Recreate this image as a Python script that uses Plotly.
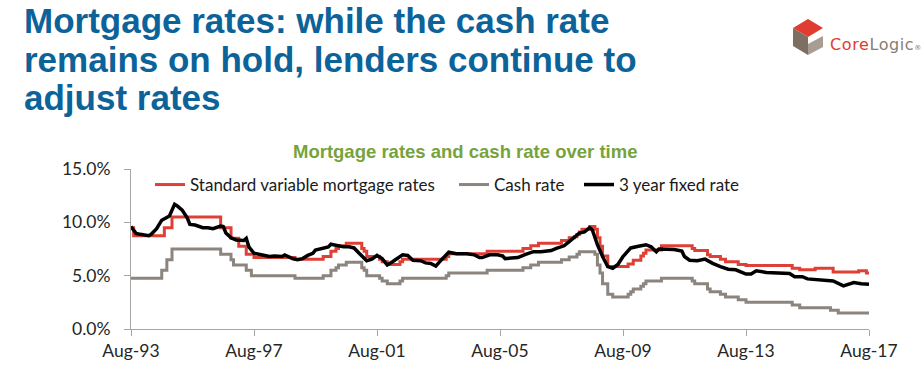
import plotly.graph_objects as go

# ---------------- data ----------------
svr_dates = ["1993-08", "1993-09", "1994-09", "1994-12", "1996-07", "1996-11", "1997-02",
             "1997-05", "1997-08", "1998-12", "1999-11", "2000-02", "2000-04", "2000-05",
             "2000-08", "2001-02", "2001-03", "2001-04", "2001-09", "2001-10", "2001-12",
             "2002-05", "2002-06", "2003-11", "2003-12", "2005-03", "2006-05", "2006-08",
             "2006-11", "2007-08", "2007-11", "2008-01", "2008-02", "2008-03", "2008-04",
             "2008-07", "2008-09", "2008-10", "2008-11", "2008-12", "2009-02", "2009-10",
             "2009-12", "2010-03", "2010-04", "2010-05", "2010-11", "2011-11", "2011-12",
             "2012-05", "2012-06", "2012-10", "2012-12", "2013-05", "2013-08", "2015-02",
             "2015-05", "2015-11", "2016-06", "2017-04", "2017-07", "2017-08"]
svr_values = [9.5, 8.75, 9.5, 10.5, 9.5, 8.5, 7.75,
              7.0, 6.7, 6.55, 6.8, 7.3, 7.55, 7.8,
              8.05, 7.55, 7.3, 6.8, 6.55, 6.3, 6.05,
              6.3, 6.55, 6.8, 7.05, 7.3, 7.55, 7.8,
              8.05, 8.3, 8.55, 8.65, 8.85, 9.1, 9.35,
              9.6, 9.35, 8.55, 7.75, 6.85, 5.85, 6.1,
              6.45, 6.85, 7.1, 7.4, 7.8, 7.55, 7.35,
              6.95, 6.8, 6.55, 6.3, 6.05, 5.95, 5.7,
              5.55, 5.7, 5.35, 5.45, 5.25, 5.25]

cash_dates = ["1993-08", "1994-08", "1994-10", "1994-12", "1996-07", "1996-11", "1996-12",
              "1997-05", "1997-07", "1998-12", "1999-11", "2000-02", "2000-04", "2000-05",
              "2000-08", "2001-02", "2001-03", "2001-04", "2001-09", "2001-10", "2001-12",
              "2002-05", "2002-06", "2003-11", "2003-12", "2005-03", "2006-05", "2006-08",
              "2006-11", "2007-08", "2007-11", "2008-02", "2008-03", "2008-09", "2008-10",
              "2008-11", "2008-12", "2009-02", "2009-04", "2009-10", "2009-11", "2009-12",
              "2010-03", "2010-04", "2010-05", "2010-11", "2011-11", "2011-12", "2012-05",
              "2012-06", "2012-10", "2012-12", "2013-05", "2013-08", "2015-02", "2015-05",
              "2016-05", "2016-08", "2017-08"]
cash_values = [4.75, 5.5, 6.5, 7.5, 7.0, 6.5, 6.0,
               5.5, 5.0, 4.75, 5.0, 5.5, 5.75, 6.0,
               6.25, 5.75, 5.5, 5.0, 4.75, 4.5, 4.25,
               4.5, 4.75, 5.0, 5.25, 5.5, 5.75, 6.0,
               6.25, 6.5, 6.75, 7.0, 7.25, 7.0, 6.0,
               5.25, 4.25, 3.25, 3.0, 3.25, 3.5, 3.75,
               4.0, 4.25, 4.5, 4.75, 4.5, 4.25, 3.75,
               3.5, 3.25, 3.0, 2.75, 2.5, 2.25, 2.0,
               1.75, 1.5, 1.5]

fixed_dates = ["1993-08", "1993-10", "1993-11", "1994-03", "1994-04", "1994-06", "1994-08",
               "1994-11", "1994-12", "1995-01", "1995-02", "1995-04", "1995-06", "1995-07",
               "1995-09", "1995-12", "1996-02", "1996-04", "1996-07", "1996-08", "1996-09",
               "1996-11", "1997-01", "1997-04", "1997-05", "1997-06", "1997-08", "1997-11",
               "1998-02", "1998-04", "1998-07", "1998-08", "1998-11", "1999-01", "1999-03",
               "1999-05", "1999-07", "1999-08", "1999-11", "2000-01", "2000-02", "2000-04",
               "2000-07", "2000-09", "2000-11", "2001-01", "2001-04", "2001-06", "2001-08",
               "2001-10", "2001-12", "2002-02", "2002-04", "2002-06", "2002-08", "2002-10",
               "2003-01", "2003-03", "2003-05", "2003-07", "2003-09", "2003-12", "2004-03",
               "2004-07", "2004-10", "2004-12", "2005-01", "2005-04", "2005-07", "2005-09",
               "2005-10", "2006-01", "2006-03", "2006-06", "2006-09", "2006-12", "2007-04",
               "2007-06", "2007-09", "2007-11", "2008-01", "2008-03", "2008-05", "2008-07",
               "2008-08", "2008-10", "2008-12", "2009-02", "2009-04", "2009-06", "2009-08",
               "2009-11", "2010-02", "2010-05", "2010-07", "2010-09", "2010-10", "2010-12",
               "2011-04", "2011-07", "2011-08", "2011-10", "2012-01", "2012-04", "2012-07",
               "2012-10", "2013-01", "2013-04", "2013-08", "2013-10", "2013-12", "2014-04",
               "2014-09", "2015-01", "2015-03", "2015-06", "2015-08", "2016-01", "2016-06",
               "2016-10", "2017-02", "2017-05", "2017-08"]
fixed_values = [9.6, 8.95, 8.9, 8.75, 8.9, 9.4, 10.2,
                10.6, 11.15, 11.7, 11.55, 11.15, 10.4, 9.8,
                9.75, 9.5, 9.5, 9.4, 9.65, 9.6, 9.0,
                8.55, 8.35, 8.3, 8.5, 7.7, 7.1, 6.95,
                6.8, 6.85, 6.8, 6.95, 6.6, 6.5, 6.6,
                6.9, 7.1, 7.4, 7.55, 7.7, 7.95, 7.85,
                7.7, 7.7, 7.6, 7.1, 6.4, 6.55, 6.9,
                6.6, 6.0, 6.3, 6.6, 6.95, 6.9, 6.45,
                6.4, 6.2, 6.15, 5.9, 6.45, 7.2, 7.05,
                7.05, 6.95, 6.7, 6.7, 6.95, 6.95, 6.85,
                6.6, 6.7, 6.7, 7.0, 7.25, 7.25, 7.35,
                7.55, 7.8, 8.2, 8.65, 9.0, 9.1, 9.5,
                9.3, 7.9, 6.8, 5.85, 5.7, 6.05, 6.8,
                7.6, 7.75, 7.9, 7.7, 7.25, 7.5, 7.5,
                7.45, 7.3, 6.8, 6.45, 6.4, 6.55, 6.15,
                5.85, 5.6, 5.55, 5.15, 5.15, 5.45, 5.3,
                5.2, 5.2, 4.9, 4.9, 4.7, 4.6, 4.5,
                4.05, 4.35, 4.25, 4.2]

tick_dates = ["1993-08", "1997-08", "2001-08", "2005-08", "2009-08", "2013-08", "2017-08"]
tick_labels = ["Aug-93", "Aug-97", "Aug-01", "Aug-05", "Aug-09", "Aug-13", "Aug-17"]
y_ticks = [0, 5, 10, 15]
y_tick_labels = ["0.0%", "5.0%", "10.0%", "15.0%"]

series_names = ["Standard variable mortgage rates", "Cash rate", "3 year fixed rate"]

# ---------------- layout helpers ----------------
W, H = 924, 389
PL, PR, PT, PB = 131, 869, 169, 329   # plot area in pixels


def px_x(p):
    return (p - PL) / (PR - PL)


def px_y(p):
    return (PB - p) / (PB - PT)


RED = "#DF4036"
GREY = "#8C847E"
BLACK = "#000000"
BLUE = "#0C6399"
GREEN = "#76A33A"

fig = go.Figure()
fig.add_trace(go.Scatter(x=svr_dates, y=svr_values, mode="lines", name=series_names[0],
                         line=dict(color=RED, width=3, shape="hv"), legend="legend"))
fig.add_trace(go.Scatter(x=cash_dates, y=cash_values, mode="lines", name=series_names[1],
                         line=dict(color=GREY, width=3, shape="hv"), legend="legend2"))
fig.add_trace(go.Scatter(x=fixed_dates, y=fixed_values, mode="lines", name=series_names[2],
                         line=dict(color=BLACK, width=3.5), legend="legend3"))

leg_font = dict(family="Lato, Carlito, sans-serif", size=17, color="#1a1a1a")


def legend_at(px_left):
    return dict(x=px_x(px_left), y=px_y(185), xanchor="left", yanchor="middle",
                orientation="h", font=leg_font, bgcolor="rgba(0,0,0,0)",
                borderwidth=0, itemwidth=30, tracegroupgap=0)


tick_font = dict(family="Lato, Carlito, sans-serif", size=17.5, color="#262626")

fig.update_layout(
    width=W, height=H,
    margin=dict(l=PL, r=W - PR, t=PT, b=H - PB, pad=0, autoexpand=False),
    paper_bgcolor="white", plot_bgcolor="white",
    showlegend=True,
    legend=legend_at(150),
    legend2=legend_at(454),
    legend3=legend_at(579),
    xaxis=dict(type="date", range=["1993-08-01", "2017-08-01"],
               tickvals=tick_dates, ticktext=tick_labels,
               showgrid=False, zeroline=False, automargin=False,
               showline=True, linecolor="#A6A6A6", linewidth=1,
               ticks="outside", ticklen=6, tickcolor="#A6A6A6", tickwidth=1,
               tickfont=tick_font),
    yaxis=dict(range=[0, 15], tickvals=y_ticks, ticktext=y_tick_labels,
               showgrid=False, zeroline=False, automargin=False,
               showline=True, linecolor="#A6A6A6", linewidth=1,
               ticks="outside", ticklen=6, tickcolor="#A6A6A6", tickwidth=1,
               ticklabelstandoff=10, tickfont=tick_font),
)

title_font = dict(family="Liberation Sans, Arial, sans-serif", size=35, color=BLUE)
title_lines = ["<b>Mortgage rates: while the cash rate</b>",
               "<b>remains on hold, lenders continue to</b>",
               "<b>adjust rates</b>"]
for line, cy in zip(title_lines, [20.5, 59.5, 98]):
    fig.add_annotation(text=line, xref="paper", yref="paper", x=px_x(22), y=px_y(cy),
                       xanchor="left", yanchor="middle", showarrow=False, font=title_font)

fig.add_annotation(text="<b>Mortgage rates and cash rate over time</b>", xref="paper", yref="paper",
                   x=px_x(465), y=px_y(151.5), xanchor="center", yanchor="middle", showarrow=False,
                   font=dict(family="Liberation Sans, Arial, sans-serif", size=18.5, color=GREEN))

# CoreLogic logo (decoration)
fig.add_annotation(text="<span style='color:#E03C31;letter-spacing:0.6px'>Core</span>"
                        "<span style='color:#857D76;letter-spacing:0.6px'>Logic</span>"
                        "<span style='font-size:7px;color:#857D76'>®</span>",
                   xref="paper", yref="paper", x=px_x(828), y=px_y(44), xanchor="left", yanchor="middle",
                   showarrow=False, font=dict(family="DejaVu Sans, sans-serif", size=16))


def poly(points, color):
    d = "M " + " L ".join(f"{px_x(a)},{px_y(b)}" for a, b in points) + " Z"
    fig.add_shape(type="path", path=d, xref="paper", yref="paper",
                  fillcolor=color, line=dict(width=0), layer="above")


poly([(793, 28), (808, 19), (823, 28), (808, 37)], "#E03C31")
poly([(793, 28), (808, 37), (808, 55), (793, 46)], "#7E6F63")
poly([(808, 44), (823, 36), (823, 47), (808, 55)], "#A89D93")

# the page body normally adds an 8px margin; remove it so the figure fills the window
fig.write_html("out.html", config={"displayModeBar": False},
               post_script="document.body.style.margin='0px';")
